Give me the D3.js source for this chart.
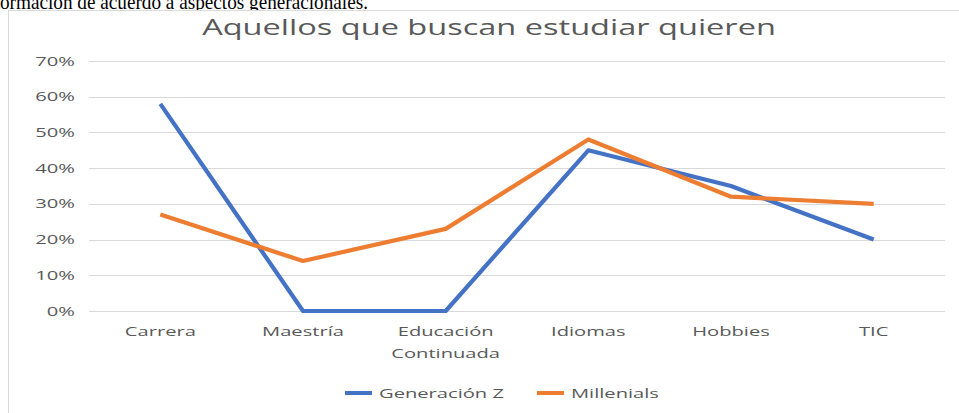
<!DOCTYPE html>
<html><head><meta charset="utf-8">
<script src="https://cdn.jsdelivr.net/npm/d3@7"></script>
<style>body{margin:0;background:#fff;overflow:hidden}svg{display:block}</style>
</head><body>
<svg id="c" width="959" height="413"></svg>
<script>
const categories = [["Carrera"],["Maestría"],["Educación","Continuada"],["Idiomas"],["Hobbies"],["TIC"]];
const genZ = [0.58, 0, 0, 0.45, 0.35, 0.20];
const millenials = [0.27, 0.14, 0.23, 0.48, 0.32, 0.30];
const yTicks = [0,0.1,0.2,0.3,0.4,0.5,0.6,0.7];
const seriesNames = ["Generación Z","Millenials"];
const colors = ["#4472C4","#ED7D31"];
const titleText = "Aquellos que buscan estudiar quieren";
const topText = "ormación de acuerdo a aspectos generacionales.";

const SX = 1.55; // horizontal stretch of the source image
const font = "'Open Sans', 'Segoe UI', sans-serif";
const grey = "#595959";

const svg = d3.select("#c");
function stext(g, x, y, anchor, size, fill, fam) {
  return g.append("text").attr("transform", `translate(${x},${y}) scale(${SX},1)`)
    .attr("text-anchor", anchor).attr("font-family", fam || font)
    .attr("font-size", size).attr("fill", fill || grey);
}

// paragraph text above chart (clipped by chart frame, as in the source)
svg.append("text").attr("x",0).attr("y",8.5)
  .attr("font-family","'Liberation Serif', 'Times New Roman', serif").attr("font-size",21).attr("fill","#000")
  .attr("textLength",368).attr("lengthAdjust","spacingAndGlyphs")
  .text(topText);
// chart frame
svg.append("rect").attr("x",8.5).attr("y",10.5).attr("width",1000).attr("height",500)
  .attr("fill","#fff").attr("stroke","#d9d9d9").attr("stroke-width",1);

const x = d3.scaleBand().domain(d3.range(categories.length)).range([89,945]);
const y = d3.scaleLinear().domain([0,0.7]).range([311,61]);

// grid
svg.append("g").selectAll("line").data(yTicks).join("line")
  .attr("x1",89).attr("x2",945).attr("y1",d=>Math.round(y(d))+0.5).attr("y2",d=>Math.round(y(d))+0.5)
  .attr("stroke","#d9d9d9").attr("stroke-width",1);

// y labels
const yg = svg.append("g");
yTicks.forEach(d=>{
  stext(yg, 75, y(d)+4.6, "end", 13).text(d3.format(".0%")(d));
});
// x labels
const xg = svg.append("g");
categories.forEach((lines,i)=>{
  const t = stext(xg, x(i)+x.bandwidth()/2, 336, "middle", 13);
  lines.forEach((s,j)=>t.append("tspan").attr("x",0).attr("dy", j===0?0:22).text(s));
});

// title
stext(svg, 489, 35, "middle", 21).text(titleText);

const line = d3.line().x((d,i)=>x(i)+x.bandwidth()/2).y(d=>y(d));
[genZ, millenials].forEach((s,k)=>{
  svg.append("path").attr("d",line(s)).attr("fill","none").attr("stroke",colors[k])
    .attr("stroke-width",4.2).attr("stroke-linejoin","round");
});

// legend
const legX = [345, 537];
seriesNames.forEach((n,k)=>{
  svg.append("line").attr("x1",legX[k]).attr("x2",legX[k]+27).attr("y1",393).attr("y2",393)
    .attr("stroke",colors[k]).attr("stroke-width",4);
  stext(svg, legX[k]+34, 397.5, "start", 13).text(n);
});
</script>
</body></html>
